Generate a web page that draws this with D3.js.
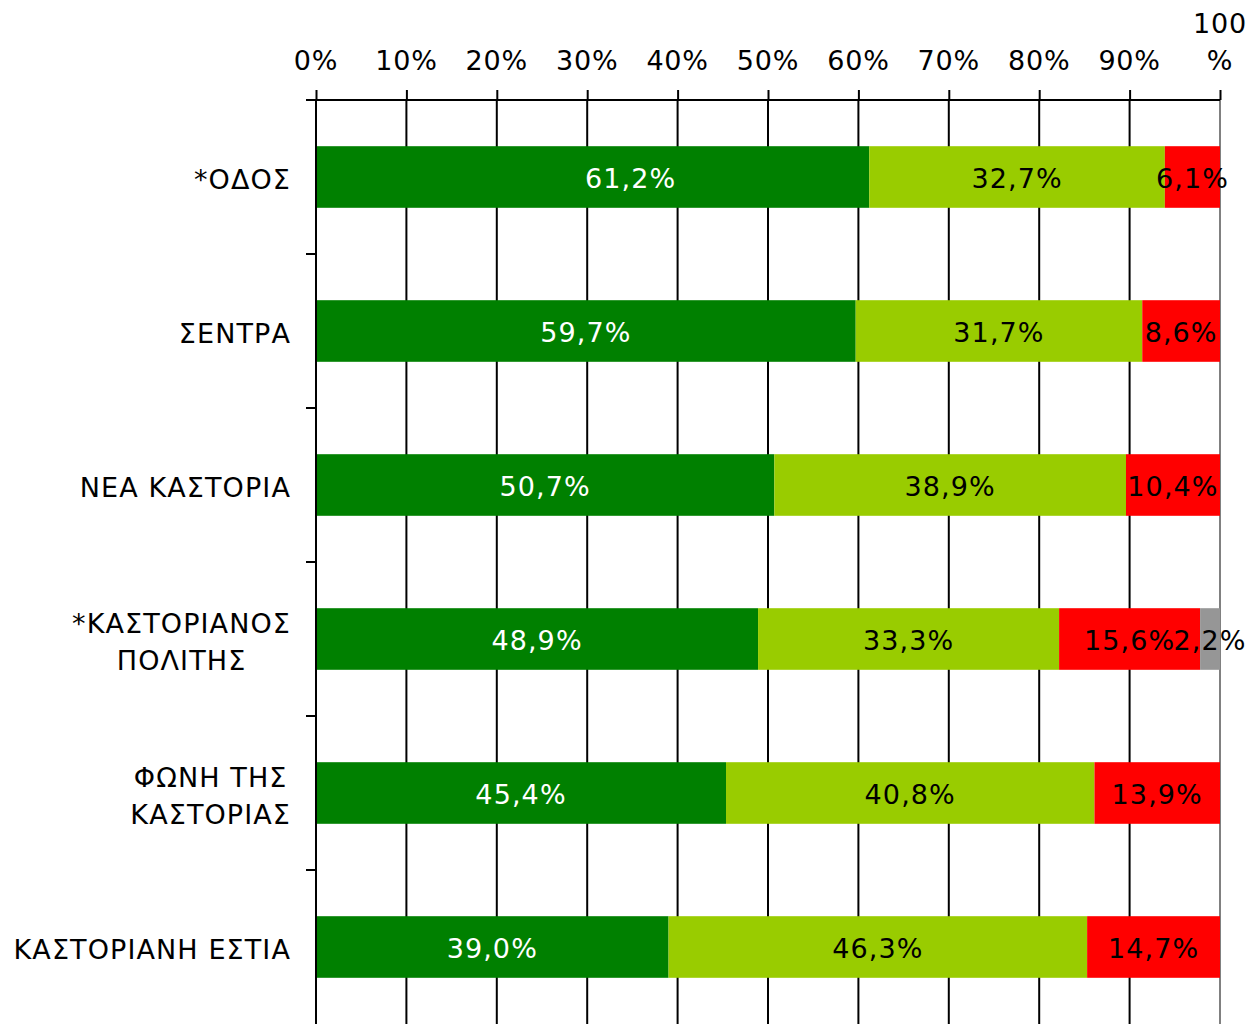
<!DOCTYPE html>
<html>
<head>
<meta charset="utf-8">
<script src="https://cdn.jsdelivr.net/npm/d3@7"></script>
<style>
  body { margin: 0; background: #fff; }
  svg { display: block; font-family: "DejaVu Sans", Verdana, sans-serif; }
</style>
</head>
<body>
<svg id="chart" width="1249" height="1024"></svg>
<script>
// categories (top to bottom), each label split in lines
const categories = [
  ["*ΟΔΟΣ"],
  ["ΣΕΝΤΡΑ"],
  ["ΝΕΑ ΚΑΣΤΟΡΙΑ"],
  ["*ΚΑΣΤΟΡΙΑΝΟΣ", "ΠΟΛΙΤΗΣ"],
  ["ΦΩΝΗ ΤΗΣ", "ΚΑΣΤΟΡΙΑΣ"],
  ["ΚΑΣΤΟΡΙΑΝΗ ΕΣΤΙΑ"]
];
const positive = [61.2, 59.7, 50.7, 48.9, 45.4, 39.0];
const neutral  = [32.7, 31.7, 38.9, 33.3, 40.8, 46.3];
const negative = [6.1, 8.6, 10.4, 15.6, 13.9, 14.7];
const noAnswer = [0, 0, 0, 2.2, 0, 0];
const tickValues = [0, 10, 20, 30, 40, 50, 60, 70, 80, 90, 100];

const seriesList = [
  { values: positive, fill: "#008000", text: "#fff" },
  { values: neutral,  fill: "#99cc00", text: "#000" },
  { values: negative, fill: "#ff0000", text: "#000" },
  { values: noAnswer, fill: "#969696", text: "#000" }
];

// the first data label was dragged to the right in the original
const labelNudge = { row: 0, series: 0, dx: 38 };

const margin = { top: 100, right: 29, bottom: 0, left: 316 };
const width = 1249 - margin.left - margin.right;
const height = 1024 - margin.top - margin.bottom;
const fontSize = 27;

const svg = d3.select("#chart");
const g = svg.append("g").attr("transform", `translate(${margin.left},${margin.top})`);

const x = d3.scaleLinear().domain([0, 100]).range([0, width]);
const y = d3.scaleBand().domain(d3.range(categories.length)).range([0, height])
  .paddingInner(0.6).paddingOuter(0.3);

// gridlines
g.selectAll(".grid").data(tickValues.slice(1)).enter().append("line")
  .attr("x1", d => x(d)).attr("x2", d => x(d))
  .attr("y1", 0).attr("y2", height)
  .attr("stroke", d => d === 100 ? "#808080" : "#000")
  .attr("stroke-width", 2);

// stacked rows (normalized to 100%)
const rows = categories.map((c, i) => {
  const total = d3.sum(seriesList, s => s.values[i]);
  let acc = 0;
  return seriesList.map((s, k) => {
    const v = s.values[i];
    const seg = { i, k, v, x0: acc / total * 100, x1: (acc + v) / total * 100, s };
    acc += v;
    return seg;
  }).filter(d => d.v > 0);
});
const segs = rows.flat();

g.selectAll(".bar").data(segs).enter().append("rect")
  .attr("x", d => x(d.x0))
  .attr("width", d => x(d.x1) - x(d.x0))
  .attr("y", d => y(d.i))
  .attr("height", y.bandwidth())
  .attr("fill", d => d.s.fill);

g.selectAll(".val").data(segs).enter().append("text")
  .attr("x", d => (x(d.x0) + x(d.x1)) / 2 +
    (d.i === labelNudge.row && d.k === labelNudge.series ? labelNudge.dx : 0))
  .attr("y", d => y(d.i) + y.bandwidth() / 2)
  .attr("dy", "0.4em")
  .attr("text-anchor", "middle")
  .attr("font-size", fontSize)
  .attr("letter-spacing", 1.1)
  .attr("fill", d => d.s.text)
  .text(d => d.v.toFixed(1).replace(".", ",") + "%");

// top axis
const xAxis = g.append("g").call(d3.axisTop(x).tickValues(tickValues).tickSize(10).tickSizeOuter(0).tickFormat(""));
xAxis.select(".domain").remove();
xAxis.selectAll("line").attr("stroke", "#000").attr("stroke-width", 2);
g.append("line").attr("x1", -10).attr("x2", width).attr("y1", 0).attr("y2", 0)
  .attr("stroke", "#000").attr("stroke-width", 2);

const xl = g.selectAll(".xl").data(tickValues).enter().append("text")
  .attr("x", d => x(d)).attr("y", -30)
  .attr("text-anchor", "middle").attr("font-size", fontSize)
  .attr("letter-spacing", 0.8).attr("fill", "#000");
xl.each(function(d) {
  const t = d3.select(this);
  if (d === 100) {
    t.append("tspan").attr("x", x(d)).attr("dy", "-1.37em").text("100");
    t.append("tspan").attr("x", x(d)).attr("dy", "1.37em").text("%");
  } else {
    t.text(d + "%");
  }
});

// left axis with ticks at band boundaries
const step = y.step();
const bounds = d3.range(categories.length + 1).map(k => y.range()[0] + k * step);
g.append("line").attr("x1", 0).attr("x2", 0).attr("y1", 0).attr("y2", height)
  .attr("stroke", "#000").attr("stroke-width", 2);
g.selectAll(".ytick").data(bounds.slice(1, -1)).enter().append("line")
  .attr("x1", -10).attr("x2", 0).attr("y1", d => d).attr("y2", d => d)
  .attr("stroke", "#000").attr("stroke-width", 2);

// category labels: lines centered, block right-aligned
const lineH = 37;
categories.forEach((lines, i) => {
  const cy = y(i) + y.bandwidth() / 2;
  const t = g.append("text").attr("font-size", fontSize).attr("fill", "#000")
    .attr("letter-spacing", 1.1).attr("text-anchor", "middle");
  const spans = lines.map((ln, k) => t.append("tspan")
    .attr("x", 0)
    .attr("y", cy + (k - (lines.length - 1) / 2) * lineH)
    .attr("dy", "0.45em").text(ln));
  const w = d3.max(spans, s => s.node().getComputedTextLength());
  spans.forEach(s => s.attr("x", -25 - w / 2));
});
</script>
</body>
</html>
